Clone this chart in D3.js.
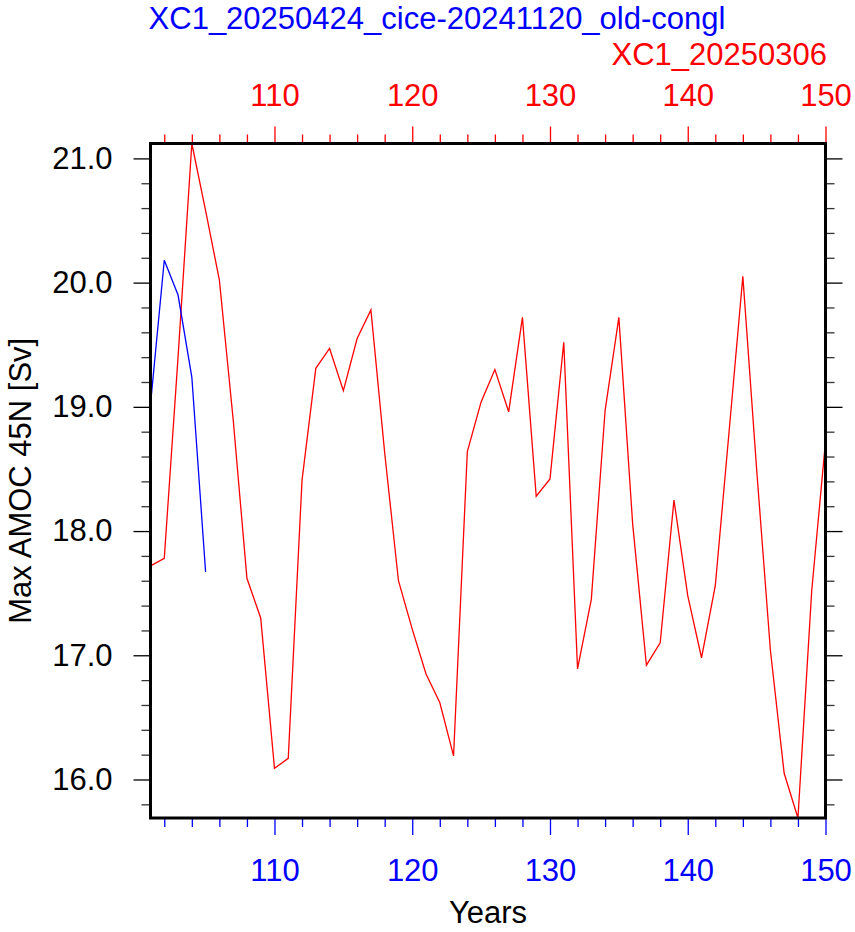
<html>
<script src="https://cdn.jsdelivr.net/npm/d3@7"></script>
<style>
  body { margin: 0; background: #fff; }
  text { font-family: "Liberation Sans", Arial, Helvetica, sans-serif; }
</style>
<body>
<div id="vis"></div>
<script>
// years for each run
const yearsRed = d3.range(101, 151);
const yearsBlue = d3.range(101, 106);

// XC1_20250306 (red)
const amocRed = [
  17.72, 17.78, 19.40, 21.12, 20.58, 20.02, 18.90, 17.62, 17.30, 16.09,
  16.17, 18.41, 19.31, 19.47, 19.13, 19.55, 19.78, 18.63, 17.60, 17.21,
  16.85, 16.62, 16.19, 18.64, 19.04, 19.30, 18.96, 19.72, 18.28, 18.42,
  19.52, 16.89, 17.45, 18.97, 19.72, 18.06, 16.92, 17.10, 18.25, 17.48,
  16.98, 17.56, 18.80, 20.05, 18.50, 17.04, 16.05, 15.69, 17.52, 18.72
];
// XC1_20250424_cice-20241120_old-congl (blue)
const amocBlue = [19.02, 20.18, 19.90, 19.24, 17.67];

const xMajor = [110, 120, 130, 140, 150];
const yMajor = [16, 17, 18, 19, 20, 21];

const titleBlue = 'XC1_20250424_cice-20241120_old-congl';
const titleRed = 'XC1_20250306';
const xTitle = 'Years';
const yTitle = 'Max AMOC 45N [Sv]';

const W = 855, H = 932;
const pL = 150.5, pR = 825.5, pT = 143.5, pB = 818;
const FS = 31;

const svg = d3.select('#vis').append('svg').attr('width', W).attr('height', H);

const x = d3.scaleLinear().domain([101, 150]).range([pL, pR]);
const y = d3.scaleLinear().domain(d3.extent(amocRed.concat(amocBlue))).range([pB, pT]);

const xMinor = d3.range(102, 151, 2).filter(v => v % 10 !== 0);
const yMinor = d3.range(15.8, 21.2, 0.2).map(v => +v.toFixed(1))
  .filter(v => Math.abs(v - Math.round(v)) > 0.01 && v >= y.domain()[0] && v <= y.domain()[1]);

function styleAxis(g, color) {
  g.select('.domain').remove();
  g.selectAll('.tick line').attr('stroke', color).attr('stroke-width', 1.3);
  g.selectAll('.tick text').attr('fill', color).style('font-size', FS + 'px')
    .style('font-family', '"Liberation Sans", Arial, sans-serif');
}

// minor ticks
svg.append('g').attr('transform', `translate(0,${pB})`)
  .call(d3.axisBottom(x).tickValues(xMinor).tickSize(9).tickFormat(''))
  .call(g => styleAxis(g, '#0000ff'));
svg.append('g').attr('transform', `translate(0,${pT})`)
  .call(d3.axisTop(x).tickValues(xMinor).tickSize(9).tickFormat(''))
  .call(g => styleAxis(g, '#ff0000'));
svg.append('g').attr('transform', `translate(${pL},0)`)
  .call(d3.axisLeft(y).tickValues(yMinor).tickSize(9).tickFormat(''))
  .call(g => styleAxis(g, '#333'));
svg.append('g').attr('transform', `translate(${pR},0)`)
  .call(d3.axisRight(y).tickValues(yMinor).tickSize(9).tickFormat(''))
  .call(g => styleAxis(g, '#333'));

// major ticks + labels
svg.append('g').attr('transform', `translate(0,${pB})`)
  .call(d3.axisBottom(x).tickValues(xMajor).tickSize(17).tickPadding(24).tickFormat(d3.format('d')))
  .call(g => styleAxis(g, '#0000ff'));
svg.append('g').attr('transform', `translate(0,${pT})`)
  .call(d3.axisTop(x).tickValues(xMajor).tickSize(17).tickPadding(21).tickFormat(d3.format('d')))
  .call(g => styleAxis(g, '#ff0000'));
svg.append('g').attr('transform', `translate(${pL},0)`)
  .call(d3.axisLeft(y).tickValues(yMajor).tickSize(17).tickPadding(21).tickFormat(d3.format('.1f')))
  .call(g => styleAxis(g, '#000'));
svg.append('g').attr('transform', `translate(${pR},0)`)
  .call(d3.axisRight(y).tickValues(yMajor).tickSize(17).tickFormat(''))
  .call(g => styleAxis(g, '#000'));

// lines
const line = d3.line().x(d => x(d[0])).y(d => y(d[1]));
svg.append('path').datum(d3.zip(yearsRed, amocRed))
  .attr('fill', 'none').attr('stroke', '#ff0000').attr('stroke-width', 1.3).attr('d', line);
svg.append('path').datum(d3.zip(yearsBlue, amocBlue))
  .attr('fill', 'none').attr('stroke', '#0000ff').attr('stroke-width', 1.3).attr('d', line);

// frame
svg.append('rect').attr('x', pL).attr('y', pT)
  .attr('width', pR - pL).attr('height', pB - pT)
  .attr('fill', 'none').attr('stroke', '#000').attr('stroke-width', 3);

// titles
svg.append('text').attr('x', 437).attr('y', 29).attr('text-anchor', 'middle')
  .attr('fill', '#0000ff').style('font-size', FS + 'px').text(titleBlue);
svg.append('text').attr('x', 827).attr('y', 65).attr('text-anchor', 'end')
  .attr('fill', '#ff0000').style('font-size', FS + 'px').text(titleRed);
svg.append('text').attr('x', (pL + pR) / 2).attr('y', 923).attr('text-anchor', 'middle')
  .attr('fill', '#000').style('font-size', FS + 'px').text(xTitle);
svg.append('text').attr('transform', `translate(31,${(pT + pB) / 2}) rotate(-90)`)
  .attr('text-anchor', 'middle').attr('fill', '#000').style('font-size', FS + 'px').text(yTitle);
</script>
</body>
</html>
